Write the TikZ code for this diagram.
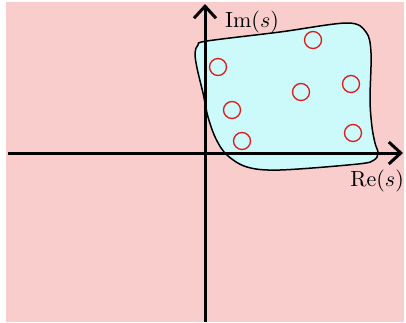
\documentclass[tikz,border=0pt]{standalone}
\usetikzlibrary{arrows.meta}
\definecolor{bgpink}{RGB}{250,205,205}
\definecolor{blobcyan}{RGB}{204,250,250}
\definecolor{polered}{RGB}{225,25,25}
\tikzset{
  axis/.style={line width=3pt, -{Straight Barb[length=12pt,width=22pt,line width=3pt]}},
  pole/.style={draw=polered, line width=1.3pt, circle, minimum size=17pt, inner sep=0pt},
  lbl/.style={inner sep=0pt}
}
\begin{document}
\begin{tikzpicture}[x=1pt,y=-1pt]
\useasboundingbox (0,0) rectangle (406,322);
\fill[bgpink] (6,2) rectangle (404,322);
\draw[fill=blobcyan, line width=1.5pt] plot[smooth cycle, tension=0.55] coordinates {
 (207,41) (280,32) (347,23) (366,32) (371,53) (370,100) (372,127) (375,143) (378,153) (374,160) (358,164) (280,170) (247,167) (227,155) (216,139) (208,117) (203,93) (197,68) (195,53) (198,45)};
\coordinate (xl) at (8,153);
\coordinate (xr) at (403,153);
\coordinate (yb) at (205,322);
\coordinate (yt) at (205,4);
\draw[axis] (xl) -- (xr);
\draw[axis] (yb) -- (yt);
\node[lbl, anchor=base west] (im) at (225,27) {\scalebox{2.2}{$\mathrm{Im}(s)$}};
\node[lbl, anchor=base east] (re) at (404,186) {\scalebox{2.2}{$\mathrm{Re}(s)$}};
\node[pole] (p1) at (313,40) {};
\node[pole] (p2) at (218,67) {};
\node[pole] (p3) at (351,84) {};
\node[pole] (p4) at (301,92) {};
\node[pole] (p5) at (232,110) {};
\node[pole] (p6) at (353,133) {};
\node[pole] (p7) at (242,141) {};
\end{tikzpicture}
\end{document}
